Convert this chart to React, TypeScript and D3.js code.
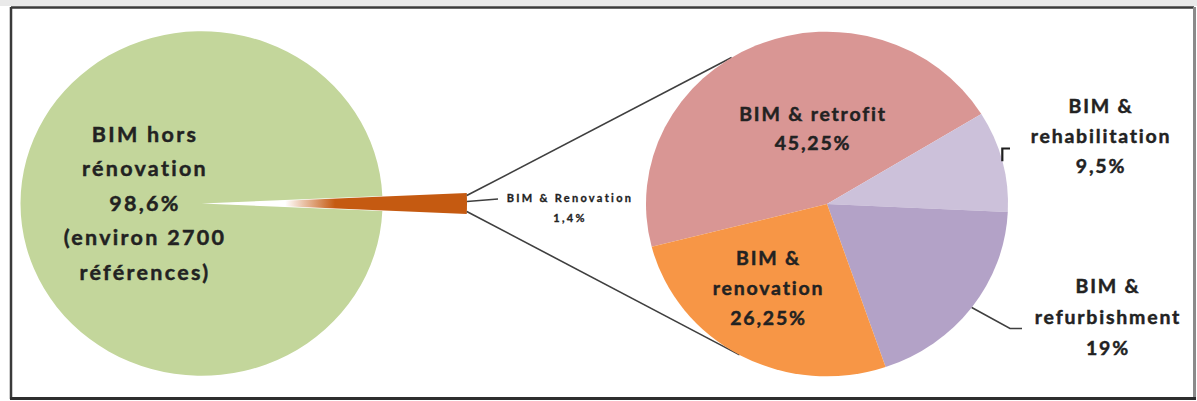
import React from 'react';
import * as d3 from 'd3';

// Share of publications: BIM outside renovation vs. BIM & renovation (main pie)
const mainCategories = ['BIM hors rénovation', 'BIM & Renovation'];
const mainShares = [98.6, 1.4];
const mainColors = ['#c3d69b', '#c55a11'];
const mainLabelLines = [
  ['BIM hors', 'rénovation', '', '(environ 2700', 'références)'],
  ['BIM & Renovation', ''],
];

// Breakdown of the BIM & renovation slice (secondary pie)
const detailCategories = ['BIM & retrofit', 'BIM & rehabilitation', 'BIM & refurbishment', 'BIM & renovation'];
const detailShares = [45.25, 9.5, 19, 26.25];
const detailColors = ['#d99694', '#ccc1da', '#b3a2c7', '#f79646'];
const detailLabelLines = [
  ['BIM & retrofit', ''],
  ['BIM &', 'rehabilitation', ''],
  ['BIM &', 'refurbishment', ''],
  ['BIM &', 'renovation', ''],
];

const W = 1197;
const H = 401;
const R = 181;
const SY = 0.952;
const MAIN_C = { x: 201.5, y: 203.5 };
const DETAIL_C = { x: 827, y: 204 };
const WEDGE_APEX = { x: 218, y: 203.5 };
const WEDGE_LEN = 249;
const DEG = Math.PI / 180;
const FONT = 'Lato, "Open Sans", sans-serif';
const TEXT = '#222222';
const LINE = '#3f3f3f';

const pct = (v: number) => `${String(v).replace('.', ',')}%`;

// fill the empty slot of each label block with the formatted share
const withValue = (lines: string[], v: number) => lines.map((l) => (l === '' ? pct(v) : l));

function Label({ x, y, lines, step, size, spacing, weight = 0.45 }: { x: number; y: number; lines: string[]; step: number; size: number; spacing: number; weight?: number }) {
  return (
    <text
      x={x}
      y={y}
      textAnchor="middle"
      fontFamily={FONT}
      fontWeight={700}
      fontSize={size}
      fill={TEXT}
      stroke={TEXT}
      strokeWidth={weight}
      letterSpacing={spacing}
    >
      {lines.map((l, i) => (
        <tspan key={i} x={x} y={y + i * step}>
          {l}
        </tspan>
      ))}
    </text>
  );
}

export default function App() {
  // main pie: the small slice is centred on 3 o'clock
  const half = (mainShares[1] / 100) * Math.PI;
  const mainStart = Math.PI / 2 + half;
  const mainPie = d3.pie<number>().sort(null).startAngle(mainStart).endAngle(mainStart + 2 * Math.PI)(mainShares);
  const mainArc = d3.arc<d3.PieArcDatum<number>>().innerRadius(0).outerRadius(R);
  const wedgeArc = d3.arc<d3.PieArcDatum<number>>().innerRadius(0).outerRadius(WEDGE_LEN);

  const wedge = mainPie[1];
  const wedgeCorner = (a: number) => ({
    x: WEDGE_APEX.x + WEDGE_LEN * Math.sin(a),
    y: WEDGE_APEX.y - WEDGE_LEN * Math.cos(a) * SY,
  });
  // startAngle is the upper edge of the slice, endAngle the lower one
  const cornerTop = wedgeCorner(wedge.startAngle);
  const cornerBottom = wedgeCorner(wedge.endAngle);
  const tip = { x: WEDGE_APEX.x + WEDGE_LEN, y: WEDGE_APEX.y };

  // secondary pie
  const detailStart = -104.4 * DEG;
  const detailPie = d3.pie<number>().sort(null).startAngle(detailStart).endAngle(detailStart + 2 * Math.PI)(detailShares);
  const detailArc = d3.arc<d3.PieArcDatum<number>>().innerRadius(0).outerRadius(R);
  const onDetailEdge = (a: number) => ({
    x: DETAIL_C.x + R * Math.sin(a),
    y: DETAIL_C.y - R * Math.cos(a) * SY,
  });
  const connectTop = onDetailEdge(-31.8 * DEG);
  const connectBottom = onDetailEdge(208.9 * DEG);

  const mid = (d: d3.PieArcDatum<number>) => (d.startAngle + d.endAngle) / 2;
  const rehabStart = onDetailEdge(mid(detailPie[1]));
  const refurbStart = onDetailEdge(mid(detailPie[2]));

  return (
    <svg width={W} height={H} style={{ position: 'absolute', left: 0, top: 0, background: '#fff' }}>
      <defs>
        <linearGradient id="wedgeFill" gradientUnits="userSpaceOnUse" x1={0} y1={0} x2={WEDGE_LEN} y2={0}>
          <stop offset="0" stopColor="#ffffff" />
          <stop offset="0.27" stopColor="#ffffff" />
          <stop offset="0.47" stopColor={mainColors[1]} />
          <stop offset="1" stopColor={mainColors[1]} />
        </linearGradient>
      </defs>

      {/* page band and chart frame */}
      <rect x={0} y={0} width={W} height={6} fill="#e9e9e9" />
      <line x1={11} y1={7.5} x2={1194} y2={7.5} stroke="#3a3a3a" strokeWidth={2.5} />
      <line x1={11} y1={7} x2={11} y2={399} stroke="#3a3a3a" strokeWidth={2.5} />
      <line x1={1194.5} y1={7} x2={1194.5} y2={399} stroke="#8a8a8a" strokeWidth={3} />
      <line x1={10} y1={398.5} x2={1196} y2={398.5} stroke="#2e2e2e" strokeWidth={3} />

      {/* main pie */}
      <g transform={`translate(${MAIN_C.x},${MAIN_C.y}) scale(1,${SY})`}>
        <path d={mainArc(mainPie[0]) || ''} fill={mainColors[0]} />
      </g>
      <g transform={`translate(${WEDGE_APEX.x},${WEDGE_APEX.y}) scale(1,${SY})`}>
        <path d={wedgeArc(wedge) || ''} fill="url(#wedgeFill)" />
      </g>

      {/* connectors to the secondary pie */}
      <line x1={cornerTop.x} y1={cornerTop.y + 2.5} x2={connectTop.x} y2={connectTop.y} stroke={LINE} strokeWidth={1.6} />
      <line x1={cornerBottom.x} y1={cornerBottom.y - 2.5} x2={connectBottom.x} y2={connectBottom.y} stroke={LINE} strokeWidth={1.6} />
      <line x1={tip.x} y1={tip.y - 2} x2={tip.x + 31} y2={tip.y - 4.5} stroke={LINE} strokeWidth={1.4} />

      {/* secondary pie */}
      <g transform={`translate(${DETAIL_C.x},${DETAIL_C.y}) scale(1,${SY})`}>
        {detailPie.map((d, i) => (
          <path key={detailCategories[i]} d={detailArc(d) || ''} fill={detailColors[i]} />
        ))}
      </g>

      {/* leader lines */}
      <polyline
        points={`${rehabStart.x},${rehabStart.y} ${rehabStart.x},148.5 1010,148.5`}
        fill="none"
        stroke="#1e1e1e"
        strokeWidth={2.2}
      />
      <polyline
        points={`${refurbStart.x},${refurbStart.y} 1010,328.5 1022,328.5`}
        fill="none"
        stroke={LINE}
        strokeWidth={1.6}
      />

      {/* labels */}
      <Label x={145} y={142} step={34.4} size={21.5} spacing={2.3} lines={withValue(mainLabelLines[0], mainShares[0])} />
      <Label x={570} y={201.5} step={20} size={11} spacing={2.3} weight={0.3} lines={withValue(mainLabelLines[1], mainShares[1])} />
      <Label x={813} y={121} step={29} size={19.5} spacing={1.8} lines={withValue(detailLabelLines[0], detailShares[0])} />
      <Label x={1101} y={113} step={30.2} size={19.5} spacing={1.8} lines={withValue(detailLabelLines[1], detailShares[1])} />
      <Label x={1108} y={293.3} step={30.8} size={19.5} spacing={1.8} lines={withValue(detailLabelLines[2], detailShares[2])} />
      <Label x={768.5} y={265} step={30} size={19.5} spacing={1.8} lines={withValue(detailLabelLines[3], detailShares[3])} />
    </svg>
  );
}
